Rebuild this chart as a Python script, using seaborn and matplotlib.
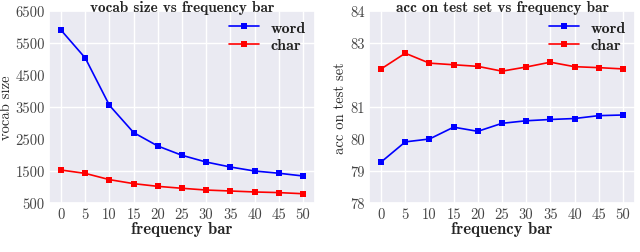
import matplotlib
matplotlib.use("Agg")
import matplotlib.pyplot as plt
import pandas as pd
import seaborn as sns

freq_bar = [0, 5, 10, 15, 20, 25, 30, 35, 40, 45, 50]
vocab_word = [5900, 5030, 3550, 2700, 2280, 1990, 1780, 1625, 1500, 1430, 1345]
vocab_char = [1530, 1425, 1230, 1105, 1020, 960, 905, 875, 845, 825, 790]
acc_word = [79.28, 79.91, 80.00, 80.37, 80.24, 80.49, 80.57, 80.61, 80.64, 80.73, 80.75]
acc_char = [82.19, 82.68, 82.37, 82.32, 82.27, 82.12, 82.25, 82.40, 82.26, 82.23, 82.19]

# only every other y tick carries a white grid line in the reference
vocab_grid = [1500, 3500, 5500]
vocab_other = [500, 2500, 4500, 6500]
acc_grid = [79, 81, 83]
acc_other = [78, 80, 84]

sns.set_theme(style="darkgrid")
plt.rcParams["font.family"] = "cmr10"
plt.rcParams["axes.formatter.use_mathtext"] = True
plt.rcParams["axes.unicode_minus"] = False

palette = {"word": "blue", "char": "red"}


def long_df(word, char):
    return pd.DataFrame({
        "freq": freq_bar * 2,
        "value": word + char,
        "kind": ["word"] * len(word) + ["char"] * len(char),
    })


def panel(ax, df, title, ylabel, ylim, grid_ticks, other_ticks):
    sns.lineplot(data=df, x="freq", y="value", hue="kind", palette=palette,
                 marker="s", markersize=4.5, markeredgewidth=0, linewidth=1.2,
                 ax=ax)
    ax.set_xlim(-2.5, 52.5)
    ax.set_ylim(*ylim)
    ax.set_xticks(freq_bar)
    ax.set_xticklabels([str(v) for v in freq_bar], fontsize=10.5)
    ax.set_yticks(grid_ticks)
    ax.set_yticklabels([str(v) for v in grid_ticks], fontsize=10.5)
    ax.set_yticks(other_ticks, minor=True)
    ax.set_yticklabels([str(v) for v in other_ticks], minor=True, fontsize=10.5)
    ax.tick_params(axis="both", which="both", length=0, pad=3, colors="#444444")
    ax.grid(False, which="minor")
    ax.set_title(title, fontsize=11, fontfamily="cmb10", pad=0)
    ax.set_xlabel("frequency bar", fontsize=12, fontfamily="cmb10", labelpad=0)
    ax.set_ylabel(ylabel, fontsize=10.5, labelpad=2)
    leg = ax.legend(loc="upper right", frameon=False, handlelength=1.9,
                    handletextpad=0.7, labelspacing=0.2, borderaxespad=0.2,
                    prop={"family": "cmb10", "size": 11.5})
    for t in leg.get_texts():
        t.set_color("#222222")


fig = plt.figure(figsize=(6.4, 2.53), dpi=100)
ax1 = fig.add_axes([49 / 640, 49 / 253, 266 / 640, 192 / 253])
ax2 = fig.add_axes([369 / 640, 49 / 253, 266 / 640, 192 / 253])

panel(ax1, long_df(vocab_word, vocab_char), "vocab size vs frequency bar",
      "vocab size", (500, 6500), vocab_grid, vocab_other)
panel(ax2, long_df(acc_word, acc_char), "acc on test set vs frequency bar",
      "acc on test set", (78, 84), acc_grid, acc_other)

fig.savefig("out.png", dpi=100)
